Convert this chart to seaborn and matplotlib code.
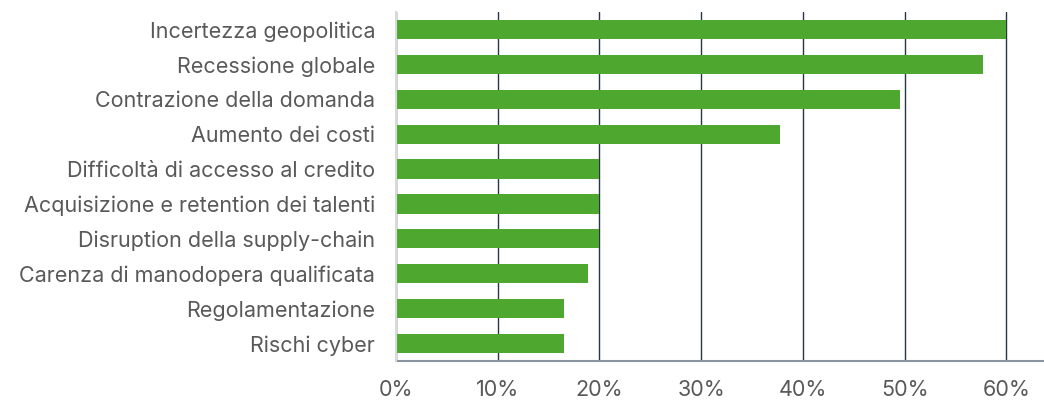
import matplotlib
matplotlib.use("Agg")
import matplotlib.pyplot as plt
import seaborn as sns
import pandas as pd
from matplotlib.ticker import FuncFormatter

categories = [
    "Incertezza geopolitica",
    "Recessione globale",
    "Contrazione della domanda",
    "Aumento dei costi",
    "Difficoltà di accesso al credito",
    "Acquisizione e retention dei talenti",
    "Disruption della supply-chain",
    "Carenza di manodopera qualificata",
    "Regolamentazione",
    "Rischi cyber",
]
values = [60.0, 57.7, 49.5, 37.7, 20.0, 20.0, 20.0, 18.9, 16.5, 16.5]
xticks = [0, 10, 20, 30, 40, 50, 60]

df = pd.DataFrame({"cat": categories, "val": values})

sns.set_theme(style="white")
plt.rcParams["font.family"] = ["Inter", "DejaVu Sans"]

fig = plt.figure(figsize=(10.44, 4.0), dpi=100)
ax = fig.add_axes([396 / 1044, 1 - 361 / 400, (1044 - 396) / 1044, (361 - 12) / 400])

sns.barplot(data=df, x="val", y="cat", color="#4EA72E", width=0.55,
            saturation=1, linewidth=0, ax=ax, zorder=3)

ax.set_xlim(0, 63.7)
ax.set_ylim(9.5, -0.5)
ax.set_xticks(xticks)
ax.xaxis.set_major_formatter(FuncFormatter(lambda v, p: f"{int(round(v))}%"))
ax.grid(axis="x", color="#263646", linewidth=1.0, zorder=1)
ax.grid(axis="y", visible=False)
ax.set_axisbelow(True)
for s in ["top", "right"]:
    ax.spines[s].set_visible(False)
ax.spines["left"].set_color("#D9D9D9")
ax.spines["left"].set_linewidth(1.5)
ax.spines["left"].set_zorder(4)
ax.spines["bottom"].set_color("#8A949E")
ax.spines["bottom"].set_linewidth(1.5)
ax.set_xlabel("")
ax.set_ylabel("")
ax.tick_params(axis="x", length=0, pad=14, labelsize=15.5, labelcolor="#595959")
ax.tick_params(axis="y", length=0, pad=15, labelsize=15.5, labelcolor="#595959")

fig.savefig("out.png", dpi=100)
